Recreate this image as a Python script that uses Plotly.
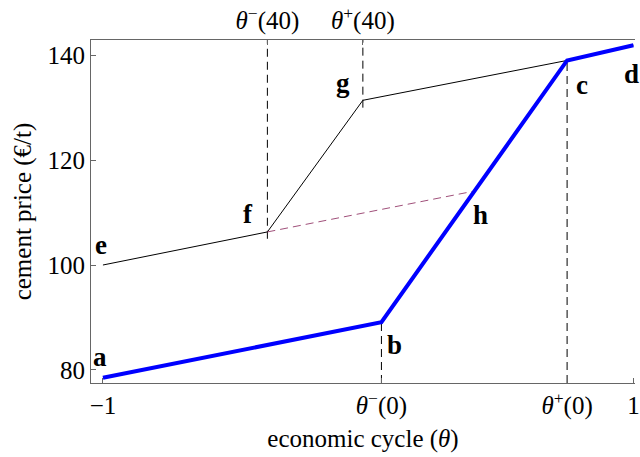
import plotly.graph_objects as go

# key economic-cycle points
theta_m0 = 0.05     # theta^-(0)
theta_p0 = 0.75     # theta^+(0)
theta_m40 = -0.38   # theta^-(40)
theta_p40 = -0.02   # theta^+(40)

# blue curve (a-b-c-d)
blue_x = [-1, theta_m0, theta_p0, 1]
blue_y = [78.5, 89.1, 139.0, 141.9]
# black curve (e-f-g-c-d)
black_x = [-1, theta_m40, theta_p40, theta_p0, 1]
black_y = [100.0, 106.3, 131.4, 139.0, 141.9]
# dashed f-h
h_y = 114.1
h_x = theta_m0 + (h_y - blue_y[1]) * (theta_p0 - theta_m0) / (blue_y[2] - blue_y[1])
fh_x = [theta_m40, h_x]
fh_y = [106.3, h_y]

y_ticks = [80, 100, 120, 140]
bottom_tickvals = [-1, theta_m0, theta_p0, 1]
bottom_ticktext = ["\u22121", "<i>θ</i><sup>\u2212</sup>(0)", "<i>θ</i><sup>+</sup>(0)", "1"]
top_tickvals = [theta_m40, theta_p40]
top_ticktext = ["<i>θ</i><sup>\u2212</sup>(40)", "<i>θ</i><sup>+</sup>(40)"]

labels = ["a", "b", "c", "d", "e", "f", "g", "h"]
label_x = [blue_x[0], blue_x[1], blue_x[2], blue_x[3], black_x[0], black_x[1], black_x[2], h_x]
label_y = [blue_y[0], blue_y[1], blue_y[2], blue_y[3], black_y[0], black_y[1], black_y[2], h_y]
label_dx = [-3, 13, 15, -2, -2, -19, -20, 6]
label_dy = [21, -23, -25, -29, 20, 18, 17, -24]

XR = [-1.045, 1.006]
YR = [77.5, 142.9]

fig = go.Figure()

# vertical dashed guides
guides = [
    (theta_m40, 105.0, YR[1]),
    (theta_p40, 130.0, YR[1]),
    (theta_m0, YR[0], 89.1),
    (theta_p0, YR[0], 139.0),
]
for gx, y0, y1 in guides:
    fig.add_trace(go.Scatter(x=[gx, gx], y=[y0, y1], mode="lines",
                             line=dict(color="black", width=1, dash="8px,5px"),
                             hoverinfo="skip", showlegend=False))

fig.add_trace(go.Scatter(x=black_x, y=black_y, mode="lines",
                         line=dict(color="black", width=1), showlegend=False))
fig.add_trace(go.Scatter(x=fh_x, y=fh_y, mode="lines",
                         line=dict(color="#a0507a", width=1, dash="8px,5px"), showlegend=False))
fig.add_trace(go.Scatter(x=blue_x, y=blue_y, mode="lines",
                         line=dict(color="#0000ff", width=4), showlegend=False))
# dummy trace for top axis
fig.add_trace(go.Scatter(x=[XR[0]], y=[YR[0]], xaxis="x2", mode="markers",
                         marker=dict(opacity=0), hoverinfo="skip", showlegend=False))

for t, lx, ly, dx, dy in zip(labels, label_x, label_y, label_dx, label_dy):
    fig.add_annotation(x=lx, y=ly, text=f"<b>{t}</b>", showarrow=False,
                       xshift=dx, yshift=dy,
                       font=dict(family="Liberation Serif", size=27, color="black"))

serif = "Liberation Serif"
fig.update_layout(
    width=640, height=457,
    margin=dict(l=91, r=0, t=40, b=74),
    paper_bgcolor="white", plot_bgcolor="white",
    font=dict(family=serif, size=25, color="black"),
    xaxis=dict(range=XR, tickvals=bottom_tickvals, ticktext=bottom_ticktext,
               showgrid=False, zeroline=False, showline=True, linecolor="#666666",
               linewidth=1, ticks="inside", ticklen=5, tickcolor="#666666",
               ticklabeloverflow="allow",
               title=dict(text="economic cycle (<i>θ</i>)", font=dict(size=25), standoff=10),
               tickfont=dict(size=25)),
    xaxis2=dict(range=XR, overlaying="x", side="top", tickvals=top_tickvals,
                ticktext=top_ticktext, showgrid=False, zeroline=False, showline=True,
                linecolor="#666666", linewidth=1, ticks="inside", ticklen=5,
                tickcolor="#666666", tickfont=dict(size=25)),
    yaxis=dict(range=YR, tickvals=y_ticks, showgrid=False, zeroline=False,
               showline=True, linecolor="#666666", linewidth=1, ticks="inside",
               ticklen=5, tickcolor="#666666", tickfont=dict(size=25),
               title=dict(text="cement price (€/t)", font=dict(size=25), standoff=8)),
)

fig.write_html("out.html", config={"displayModeBar": False},
               post_script="document.body.style.margin='0';"
                           "document.body.style.overflow='hidden';")
